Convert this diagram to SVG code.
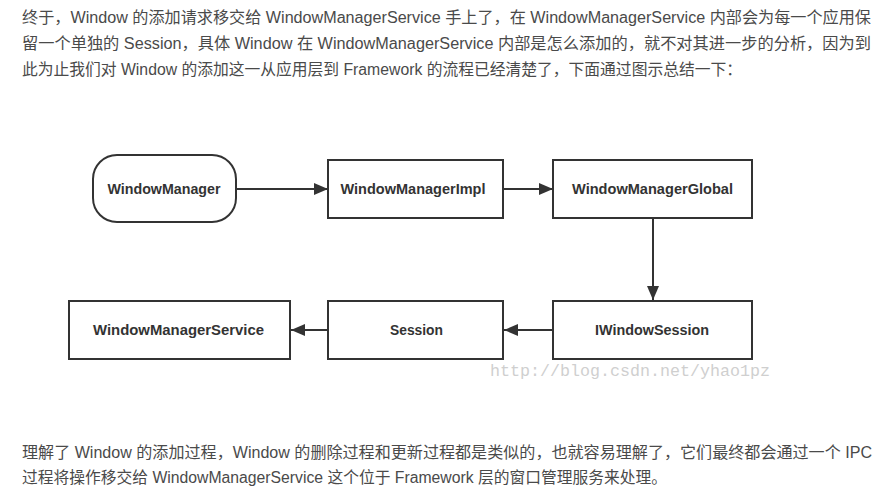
<svg xmlns="http://www.w3.org/2000/svg" width="894" height="495" viewBox="0 0 894 495">
<style>
.p{font-family:"Liberation Sans","Noto Sans CJK SC",sans-serif;font-size:16px;fill:#4a4a4a}
.n{fill:#fff;stroke:#333;stroke-width:2}
.l{font-family:"Liberation Sans",Arial,sans-serif;font-size:14px;font-weight:bold;fill:#333;text-anchor:middle;dominant-baseline:central}
.c{stroke:#333;stroke-width:2;fill:none;marker-end:url(#ah)}
.w{font-family:"Liberation Mono",monospace;font-size:16px;fill:#cfcfcf}
</style>
<defs>
<marker id="ah" markerUnits="userSpaceOnUse" markerWidth="16" markerHeight="12" refX="14" refY="6" orient="auto">
<path d="M0,0 L14,6 L0,12 Z" fill="#333"/>
</marker>
</defs>
<rect width="894" height="495" fill="#fff"/>
<g id="text-top">
<text class="p" x="22" y="23" textLength="849" lengthAdjust="spacingAndGlyphs">终于，Window 的添加请求移交给 WindowManagerService 手上了，在 WindowManagerService 内部会为每一个应用保</text>
<text class="p" x="22" y="49" textLength="849" lengthAdjust="spacingAndGlyphs">留一个单独的 Session，具体 Window 在 WindowManagerService 内部是怎么添加的，就不对其进一步的分析，因为到</text>
<text class="p" x="22" y="75" textLength="720" lengthAdjust="spacingAndGlyphs">此为止我们对 Window 的添加这一从应用层到 Framework 的流程已经清楚了，下面通过图示总结一下：</text>
</g>
<g id="connectors">
<line class="c" x1="237" y1="189" x2="328" y2="189"/>
<line class="c" x1="504" y1="189" x2="553" y2="189"/>
<line class="c" x1="653" y1="219" x2="653" y2="300"/>
<line class="c" x1="552" y1="330" x2="504" y2="330"/>
<line class="c" x1="327" y1="330" x2="291" y2="330"/>
</g>
<g id="WindowManager">
<rect class="n" x="93" y="155" width="143" height="67" rx="24" ry="24"/>
<text class="l" x="164" y="189" textLength="113" lengthAdjust="spacingAndGlyphs">WindowManager</text>
</g>
<g id="WindowManagerImpl">
<rect class="n" x="328" y="160" width="175" height="58"/>
<text class="l" x="413" y="189" textLength="145" lengthAdjust="spacingAndGlyphs">WindowManagerImpl</text>
</g>
<g id="WindowManagerGlobal">
<rect class="n" x="553" y="160" width="199" height="58"/>
<text class="l" x="652.5" y="189" textLength="161" lengthAdjust="spacingAndGlyphs">WindowManagerGlobal</text>
</g>
<g id="IWindowSession">
<rect class="n" x="553" y="301" width="199" height="58"/>
<text class="l" x="652" y="330" textLength="114" lengthAdjust="spacingAndGlyphs">IWindowSession</text>
</g>
<g id="Session">
<rect class="n" x="328" y="301" width="175" height="58"/>
<text class="l" x="416.5" y="330" textLength="53" lengthAdjust="spacingAndGlyphs">Session</text>
</g>
<g id="WindowManagerService">
<rect class="n" x="69" y="301" width="221" height="58"/>
<text class="l" x="178.5" y="330" textLength="171" lengthAdjust="spacingAndGlyphs">WindowManagerService</text>
</g>
<text class="w" x="490" y="376" textLength="280" lengthAdjust="spacingAndGlyphs">http://blog.csdn.net/yhao1pz</text>
<g id="text-bottom">
<text class="p" x="22" y="458" textLength="850" lengthAdjust="spacingAndGlyphs">理解了 Window 的添加过程，Window 的删除过程和更新过程都是类似的，也就容易理解了，它们最终都会通过一个 IPC</text>
<text class="p" x="22" y="483" textLength="645" lengthAdjust="spacingAndGlyphs">过程将操作移交给 WindowManagerService 这个位于 Framework 层的窗口管理服务来处理。</text>
</g>
</svg>
